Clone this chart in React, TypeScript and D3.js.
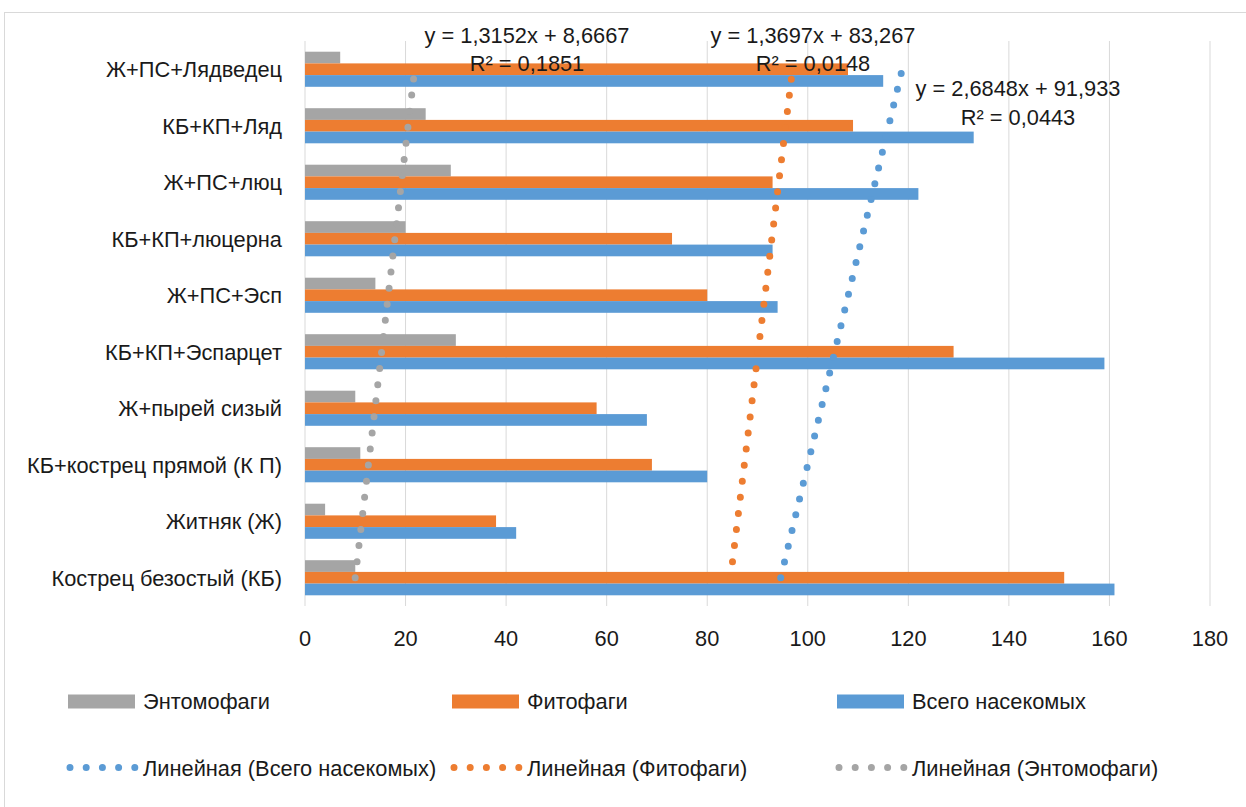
import React from "react";
import * as d3 from "d3";

const categories = [
  "Кострец безостый (КБ)",
  "Житняк (Ж)",
  "КБ+кострец прямой (К П)",
  "Ж+пырей сизый",
  "КБ+КП+Эспарцет",
  "Ж+ПС+Эсп",
  "КБ+КП+люцерна",
  "Ж+ПС+люц",
  "КБ+КП+Ляд",
  "Ж+ПС+Лядведец",
];
const entomophages = [10, 4, 11, 10, 30, 14, 20, 29, 24, 7];
const phytophages = [151, 38, 69, 58, 129, 80, 73, 93, 109, 108];
const totalInsects = [161, 42, 80, 68, 159, 94, 93, 122, 133, 115];
const xTicks = [0, 20, 40, 60, 80, 100, 120, 140, 160, 180];

const seriesNames = ["Энтомофаги", "Фитофаги", "Всего насекомых"];
const trendNames = [
  "Линейная (Всего насекомых)",
  "Линейная (Фитофаги)",
  "Линейная (Энтомофаги)",
];
const trendEquations = ["y = 1,3152x + 8,6667", "y = 1,3697x + 83,267", "y = 2,6848x + 91,933"];
const trendR2 = ["R² = 0,1851", "R² = 0,0148", "R² = 0,0443"];

const COLORS = { ento: "#A5A5A5", phyto: "#ED7D31", total: "#5B9BD5" };
const FONT = "'Liberation Sans', Arial, sans-serif";
const FS = 21.8;
const TXT = "#1a1a1a";

function linReg(ys: number[]) {
  const xs = ys.map((_, i) => i + 1);
  const mx = d3.mean(xs)!;
  const my = d3.mean(ys)!;
  let sxy = 0, sxx = 0;
  xs.forEach((x, i) => {
    sxy += (x - mx) * (ys[i] - my);
    sxx += (x - mx) * (x - mx);
  });
  const slope = sxy / sxx;
  return { slope, intercept: my - slope * mx };
}

export default function App() {
  const W = 1246, H = 807;
  const x = d3.scaleLinear().domain([0, 180]).range([305, 1210]);
  const y = d3
    .scaleBand<string>()
    .domain([...categories].reverse())
    .range([41, 606])
    .paddingInner(0)
    .paddingOuter(0);
  const bw = y.bandwidth();
  const barH = 11.7;
  const center = (c: string) => (y(c) as number) + bw / 2;

  const series = [
    { key: "ento", vals: entomophages, off: -1.5 },
    { key: "phyto", vals: phytophages, off: -0.5 },
    { key: "total", vals: totalInsects, off: 0.5 },
  ];

  const trends = [
    { key: "ento", vals: entomophages },
    { key: "phyto", vals: phytophages },
    { key: "total", vals: totalInsects },
  ].map((t) => {
    const r = linReg(t.vals);
    const pts: [number, number][] = categories.map((c, i) => [
      x(r.intercept + r.slope * (i + 1)),
      center(c),
    ]);
    return { key: t.key, path: d3.line()(pts) as string };
  });

  const dash = "0 16.2";
  const dotW = 7;

  const trendLabels = [
    { eq: trendEquations[0], r2: trendR2[0], cx: 527, y1: 42.7, y2: 71.3 },
    { eq: trendEquations[1], r2: trendR2[1], cx: 813, y1: 42.7, y2: 71.3 },
    { eq: trendEquations[2], r2: trendR2[2], cx: 1018, y1: 96, y2: 124.5 },
  ];

  const legendRow1 = [
    { name: seriesNames[0], color: COLORS.ento, x: 68 },
    { name: seriesNames[1], color: COLORS.phyto, x: 452 },
    { name: seriesNames[2], color: COLORS.total, x: 837 },
  ];
  const legendRow2 = [
    { name: trendNames[0], color: COLORS.total, x: 68 },
    { name: trendNames[1], color: COLORS.phyto, x: 452 },
    { name: trendNames[2], color: COLORS.ento, x: 837 },
  ];

  return (
    <div style={{ position: "absolute", left: 0, top: 0 }}>
      <svg width={W} height={H} style={{ display: "block", background: "#fff" }}>
        <rect x={4.5} y={12.5} width={1300} height={900} fill="#fff" stroke="#d9d9d9" strokeWidth={1} />
        {xTicks.map((t) => (
          <line key={"g" + t} x1={x(t)} x2={x(t)} y1={41} y2={606} stroke="#d9d9d9" strokeWidth={1} />
        ))}
        {xTicks.map((t) => (
          <text
            key={"t" + t}
            x={x(t)}
            y={646}
            textAnchor="middle"
            fontFamily={FONT}
            fontSize={FS}
            fill={TXT}
          >
            {t}
          </text>
        ))}
        {categories.map((c) => (
          <text
            key={"c" + c}
            x={282}
            y={center(c) + 8}
            textAnchor="end"
            fontFamily={FONT}
            fontSize={FS}
            fill={TXT}
          >
            {c}
          </text>
        ))}
        {series.map((s) =>
          categories.map((c, i) => (
            <rect
              key={s.key + i}
              x={x(0)}
              y={center(c) + s.off * barH}
              width={x(s.vals[i]) - x(0)}
              height={barH}
              fill={(COLORS as any)[s.key]}
            />
          ))
        )}
        {trends.map((t) => (
          <path
            key={"tr" + t.key}
            d={t.path}
            fill="none"
            stroke={(COLORS as any)[t.key]}
            strokeWidth={dotW}
            strokeLinecap="round"
            strokeDasharray={dash}
          />
        ))}
        {trendLabels.map((l, i) => (
          <g key={"tl" + i} fontFamily={FONT} fontSize={FS} fill={TXT} textAnchor="middle">
            <text x={l.cx} y={l.y1}>{l.eq}</text>
            <text x={l.cx} y={l.y2}>{l.r2}</text>
          </g>
        ))}
        {legendRow1.map((l, i) => (
          <g key={"l1" + i}>
            <rect x={l.x} y={694.5} width={67} height={14} fill={l.color} />
            <text x={l.x + 75} y={708.5} fontFamily={FONT} fontSize={FS} fill={TXT}>
              {l.name}
            </text>
          </g>
        ))}
        {legendRow2.map((l, i) => (
          <g key={"l2" + i}>
            <line
              x1={l.x + 2}
              x2={l.x + 68}
              y1={767.5}
              y2={767.5}
              stroke={l.color}
              strokeWidth={dotW}
              strokeLinecap="round"
              strokeDasharray={dash}
            />
            <text x={l.x + 75} y={776} fontFamily={FONT} fontSize={FS} fill={TXT}>
              {l.name}
            </text>
          </g>
        ))}
      </svg>
    </div>
  );
}
